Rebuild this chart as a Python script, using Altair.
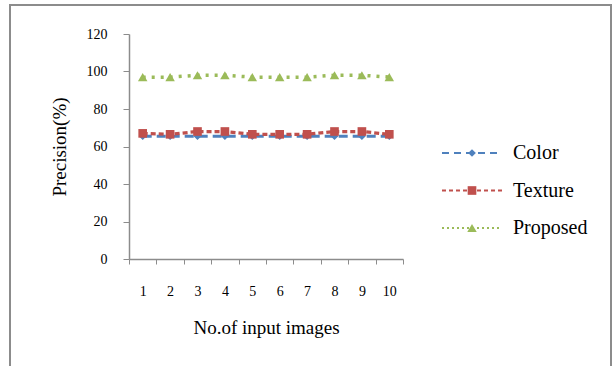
import altair as alt
import pandas as pd

# ---- data ----
categories = ["1", "2", "3", "4", "5", "6", "7", "8", "9", "10"]
series_names = ["Color", "Texture", "Proposed"]
color_values = [65.5, 65.5, 65.5, 65.5, 65.5, 65.5, 65.5, 65.5, 65.5, 65.5]
texture_values = [67, 66.5, 68, 68, 66.5, 66.5, 66.5, 68, 68, 66.5]
proposed_values = [97, 97, 98, 98, 97, 97, 97, 98, 98, 97]
y_ticks = [0, 20, 40, 60, 80, 100, 120]

# ---- styles ----
series_colors = ["#4F81BD", "#C0504D", "#9BBB59"]
series_dashes = [[9, 5], [5, 3], [3, 6]]
legend_dashes = [[7, 5], [4, 3], [2, 3]]
series_widths = [3, 3.5, 3]
series_shapes = ["diamond", "square", "triangle-up"]
series_sizes = [60, 90, 50]
FONT = "Liberation Serif"

rows = []
for name, vals in zip(series_names, [color_values, texture_values, proposed_values]):
    for c, v in zip(categories, vals):
        rows.append({"input": c, "precision": v, "series": name})
df = pd.DataFrame(rows)
legend_df = pd.DataFrame({"series": series_names})
frame_df = pd.DataFrame({"k": [0]})

color_scale = alt.Scale(domain=series_names, range=series_colors)
dash_scale = alt.Scale(domain=series_names, range=series_dashes)
legend_dash_scale = alt.Scale(domain=series_names, range=legend_dashes)
shape_scale = alt.Scale(domain=series_names, range=series_shapes)
width_scale = alt.Scale(domain=series_names, range=series_widths)
size_scale = alt.Scale(domain=series_names, range=series_sizes)

x_enc = alt.X(
    "input:O",
    sort=categories,
    scale=alt.Scale(type="band", paddingInner=0, paddingOuter=0),
    axis=alt.Axis(
        title="No.of input images",
        labelAngle=0,
        tickBand="extent",
        tickSize=5,
        labelPadding=20,
        labelFont=FONT,
        labelFontSize=14,
        labelColor="#000000",
        titleFont=FONT,
        titleFontSize=19,
        titleFontWeight="normal",
        titleColor="#000000",
        titlePadding=20,
        domainColor="#8c8c8c",
        tickColor="#8c8c8c",
        domainWidth=1.5,
    ),
)
y_enc = alt.Y(
    "precision:Q",
    scale=alt.Scale(domain=[0, 120], nice=False, zero=True),
    axis=alt.Axis(
        title="Precision(%)",
        values=y_ticks,
        grid=False,
        tickSize=6,
        labelPadding=16,
        labelFont=FONT,
        labelFontSize=14,
        labelColor="#000000",
        titleFont=FONT,
        titleFontSize=19,
        titleFontWeight="normal",
        titleColor="#000000",
        titlePadding=17,
        domainColor="#8c8c8c",
        tickColor="#8c8c8c",
        domainWidth=1.5,
    ),
)

lines = alt.Chart(df).mark_line().encode(
    x=x_enc,
    y=y_enc,
    color=alt.Color("series:N", scale=color_scale, legend=None),
    strokeDash=alt.StrokeDash("series:N", scale=dash_scale, legend=None),
    strokeWidth=alt.StrokeWidth("series:N", scale=width_scale, legend=None),
    detail="series:N",
)
points = alt.Chart(df).mark_point(filled=True, opacity=1).encode(
    x=x_enc,
    y=y_enc,
    color=alt.Color("series:N", scale=color_scale, legend=None),
    shape=alt.Shape("series:N", scale=shape_scale, legend=None),
    size=alt.Size("series:N", scale=size_scale, legend=None),
)
main = alt.layer(lines, points)

leg_y = alt.Y("series:N", sort=series_names,
              scale=alt.Scale(type="point", domain=series_names, range=[119, 194], padding=0),
              axis=None)
leg_lines = alt.Chart(legend_df).mark_rule(strokeWidth=2).encode(
    x=alt.value(313), x2=alt.value(373), y=leg_y,
    color=alt.Color("series:N", scale=color_scale, legend=None),
    strokeDash=alt.StrokeDash("series:N", scale=legend_dash_scale, legend=None),
)
leg_points = alt.Chart(legend_df).mark_point(filled=True, opacity=1).encode(
    x=alt.value(343), y=leg_y,
    color=alt.Color("series:N", scale=color_scale, legend=None),
    shape=alt.Shape("series:N", scale=shape_scale, legend=None),
    size=alt.Size("series:N", scale=size_scale, legend=None),
)
leg_text = alt.Chart(legend_df).mark_text(
    align="left", baseline="middle", font=FONT, fontSize=20, color="#000000"
).encode(x=alt.value(384), y=leg_y, text="series:N")
legend = alt.layer(leg_lines, leg_points, leg_text)

frame = alt.Chart(frame_df).mark_rect(
    fillOpacity=0, stroke="#8c8c8c", strokeWidth=2
).encode(x=alt.value(-119), x2=alt.value(482), y=alt.value(-29), y2=alt.value(345))

chart = (
    alt.layer(frame, main, legend)
    .resolve_scale(y="independent", strokeDash="independent")
    .properties(
        width=274,
        height=225,
        autosize=alt.AutoSizeParams(type="none"),
        padding={"left": 129, "top": 34, "right": 210, "bottom": 107},
        background="#ffffff",
    )
    .configure_view(stroke=None)
)

chart.save("out.html", embed_options={"renderer": "svg", "actions": False})
